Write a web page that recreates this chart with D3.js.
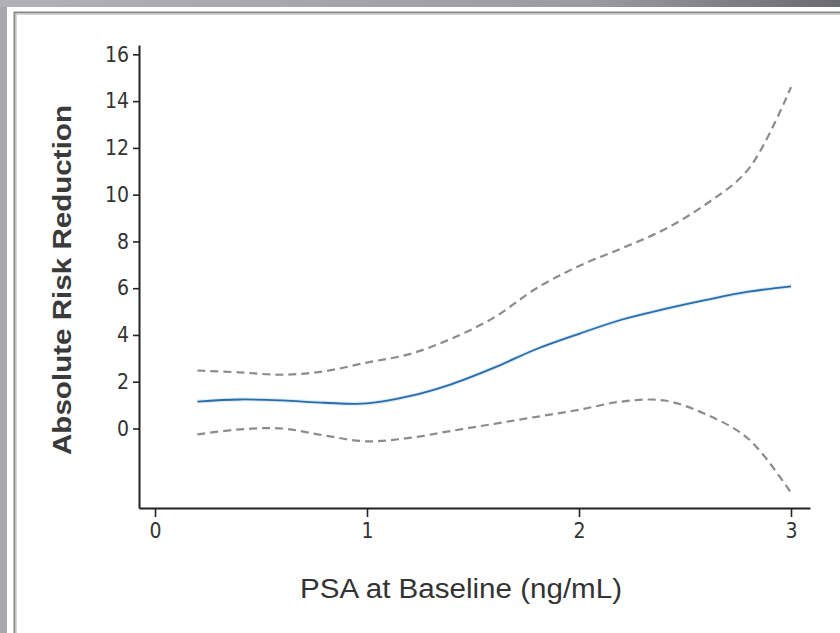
<!DOCTYPE html>
<html><head><meta charset="utf-8">
<script src="https://cdn.jsdelivr.net/npm/d3@7"></script>
<style>
html,body{margin:0;padding:0;}
body{width:840px;height:633px;overflow:hidden;background:#fff;}
</style></head>
<body>
<svg id="chart" width="840" height="633"></svg>
<script>
// ---- data ----
const psa = [0.2,0.4,0.6,0.8,1.0,1.2,1.4,1.6,1.8,2.0,2.2,2.4,2.6,2.8,3.0];
const arr = [1.15,1.24,1.2,1.1,1.07,1.38,1.9,2.6,3.4,4.05,4.65,5.1,5.5,5.85,6.08];
const upper = [2.48,2.4,2.3,2.45,2.82,3.18,3.85,4.75,6.0,6.95,7.7,8.5,9.6,11.1,14.6];
const lower = [-0.25,-0.04,0.0,-0.3,-0.55,-0.4,-0.1,0.2,0.5,0.8,1.15,1.2,0.6,-0.45,-2.75];
const xTicks = [0,1,2,3];
const yTicks = [0,2,4,6,8,10,12,14,16];
const xTitle = "PSA at Baseline (ng/mL)";
const yTitle = "Absolute Risk Reduction";

const svg = d3.select("#chart");
const defs = svg.append("defs");
const g1 = defs.append("linearGradient").attr("id","bg").attr("x1","0").attr("x2","1").attr("y1","0").attr("y2","0");
g1.append("stop").attr("offset","0").attr("stop-color","#b2b0b8");
g1.append("stop").attr("offset","0.7").attr("stop-color","#9c9aa2");
g1.append("stop").attr("offset","1").attr("stop-color","#6a6a72");

svg.append("rect").attr("width",840).attr("height",633).attr("fill","url(#bg)");
svg.append("rect").attr("x",0).attr("y",7).attr("width",7).attr("height",626).attr("fill","#a9a8b0");
svg.append("rect").attr("x",7).attr("y",7).attr("width",840).attr("height",640).attr("fill","#fff");
svg.append("rect").attr("x",14.5).attr("y",12.5).attr("width",840).attr("height",640)
  .attr("fill","none").attr("stroke","#8a8a8a").attr("stroke-width",2);
svg.append("rect").attr("x",16.5).attr("y",14.5).attr("width",840).attr("height",640)
  .attr("fill","none").attr("stroke","#d4d4d4").attr("stroke-width",1);

const x = d3.scaleLinear().domain([-0.0755, 3.0896]).range([139, 810]);
const y = d3.scaleLinear().domain([-3.4, 16.4]).range([508, 45]);

const fontTick = "'DejaVu Sans Condensed','Roboto',sans-serif";

const yAxis = svg.append("g").attr("transform","translate(139,0)")
  .call(d3.axisLeft(y).tickValues(yTicks).tickFormat(d3.format("d")).tickSize(6).tickPadding(4).tickSizeOuter(0));
const xAxis = svg.append("g").attr("transform","translate(0,508)")
  .call(d3.axisBottom(x).tickValues(xTicks).tickFormat(d3.format("d")).tickSize(9).tickPadding(6).tickSizeOuter(0));
[yAxis,xAxis].forEach(a=>{
  a.select(".domain").attr("stroke","#222").attr("stroke-width",2);
  a.selectAll(".tick line").attr("stroke","#222").attr("stroke-width",1.6);
  a.selectAll(".tick text").attr("fill","#333").style("font-family",fontTick).style("font-size","21px");
});

const line = d3.line().x((d,i)=>x(psa[i])).y(d=>y(d)).curve(d3.curveCatmullRom.alpha(0.5));

svg.append("path").datum(upper).attr("d",line).attr("fill","none")
  .attr("stroke","#8c8c8c").attr("stroke-width",2.2).attr("stroke-dasharray","8,5");
svg.append("path").datum(lower).attr("d",line).attr("fill","none")
  .attr("stroke","#8c8c8c").attr("stroke-width",2.2).attr("stroke-dasharray","8,5");
svg.append("path").datum(arr).attr("d",line).attr("fill","none")
  .attr("stroke","#bfe0f5").attr("stroke-width",4).attr("opacity",0.6);
svg.append("path").datum(arr).attr("d",line).attr("fill","none")
  .attr("stroke","#2c6aa8").attr("stroke-width",1.8);

svg.append("text").text(yTitle)
  .attr("transform","translate(71,280) rotate(-90)")
  .attr("text-anchor","middle")
  .attr("textLength",350).attr("lengthAdjust","spacingAndGlyphs")
  .style("font-family","'Liberation Sans','Arial',sans-serif").style("font-size","25px")
  .style("font-weight","bold")
  .attr("fill","#3a3a3a");

svg.append("text").text(xTitle)
  .attr("x",461).attr("y",598)
  .attr("text-anchor","middle")
  .attr("textLength",322).attr("lengthAdjust","spacingAndGlyphs")
  .style("font-family","'Liberation Sans','Arial',sans-serif").style("font-size","27px")
  .attr("fill","#333");
</script>
</body></html>
